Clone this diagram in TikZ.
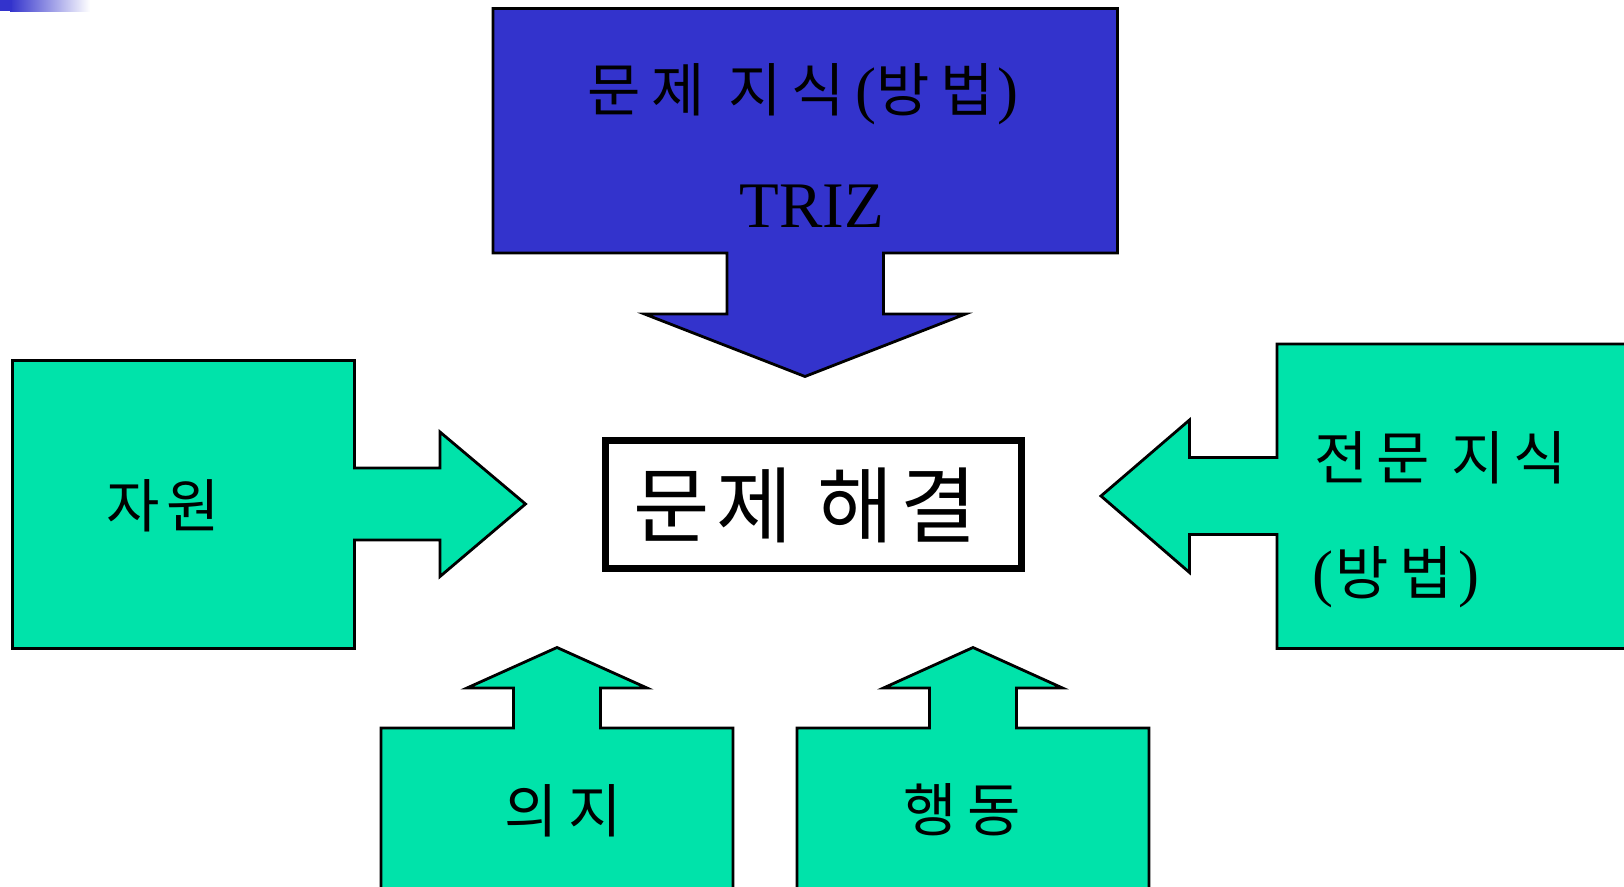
\documentclass[tikz,border=0pt]{standalone}
\usepackage{fontspec}
\setmainfont{Liberation Serif}
\newfontfamily\krA{Noto Sans CJK KR}[LetterSpace=12]
\newfontfamily\krB{Noto Sans CJK KR}[LetterSpace=8]
\newfontfamily\krC{Noto Sans CJK KR}[LetterSpace=18]
\newfontfamily\krD{Noto Sans CJK KR}[LetterSpace=15]
\definecolor{triblue}{RGB}{51,51,204}
\definecolor{trigreen}{RGB}{0,227,170}
\tikzset{
  callout/.style={draw=black, line width=1.4pt, line join=miter},
  bluecallout/.style={callout, fill=triblue},
  greencallout/.style={callout, fill=trigreen},
  lab/.style={inner sep=0pt, text=black},
  labk/.style={lab, font=\krA\fontsize{29}{34}\selectfont},
  labw/.style={lab, font=\krC\fontsize{29}{34}\selectfont},
}
\newcommand{\KW}[1]{{\krC\fontsize{29}{34}\selectfont #1}}
\begin{document}
\begin{tikzpicture}[x=0.5pt,y=-0.5pt]
\useasboundingbox (0,0) rectangle (1624,887);
\clip (0,0) rectangle (1624,887);
% top-left gradient bar
\shade[left color=triblue, right color=white] (10,0) rectangle (90,11.5);
\fill[triblue] (0,0) rectangle (12,11.5);
% top blue callout
\draw[bluecallout] (493,8.5) -- (1117.5,8.5) -- (1117.5,253) -- (883.5,253) -- (883.5,314)
  -- (965.5,314) -- (805,376.5) -- (644.5,314) -- (727,314) -- (727,253) -- (493,253) -- cycle;
% left callout
\draw[greencallout] (12.5,360.5) -- (354.5,360.5) -- (354.5,468) -- (440,468) -- (440,432)
  -- (525.5,504) -- (440,576.5) -- (440,540) -- (354.5,540) -- (354.5,648.5) -- (12.5,648.5) -- cycle;
% right callout
\draw[greencallout] (1640,344) -- (1277,344) -- (1277,457.5) -- (1189.5,457.5) -- (1189.5,420)
  -- (1101,496) -- (1189.5,572.5) -- (1189.5,534.5) -- (1277,534.5) -- (1277,648.5) -- (1640,648.5) -- cycle;
% bottom left callout
\draw[greencallout] (381,900) -- (381,728) -- (513.5,728) -- (513.5,688) -- (467,688) -- (557,647.5)
  -- (647,688) -- (600.5,688) -- (600.5,728) -- (733,728) -- (733,900) -- cycle;
% bottom right callout
\draw[greencallout] (797,900) -- (797,728) -- (929.5,728) -- (929.5,688) -- (883.5,688) -- (973,647.5)
  -- (1062.5,688) -- (1016.5,688) -- (1016.5,728) -- (1149,728) -- (1149,900) -- cycle;
% center box
\node[draw=black, line width=3.3pt, inner sep=0pt,
      minimum width=208pt, minimum height=64pt] (box) at (813.5,504.5) {};
\node[lab, font=\krB\fontsize{41.5}{48}\selectfont] (solve) at (805,505) {문제 해결};
% labels
\node[lab, font=\fontsize{31.5}{36}\selectfont] (know) at (803,94) {\KW{문제 지식}\kern5pt(\KW{방법}\kern2pt)};
\node[lab, font=\fontsize{32.5}{37}\selectfont] (triz) at (812,206.5) {TRIZ};
\node[labk] (res) at (163,506) {자원};
\node[lab, anchor=west, font=\krD\fontsize{29}{34}\selectfont] (exp1) at (1314,458) {전문 지식};
\node[lab, anchor=west, font=\fontsize{31.5}{36}\selectfont] (exp2) at (1312,577.5) {(\kern1pt\KW{방법}\kern3pt)};
\node[labw] (will) at (563,811) {의지};
\node[labw] (act) at (962,810) {행동};
\end{tikzpicture}
\end{document}
